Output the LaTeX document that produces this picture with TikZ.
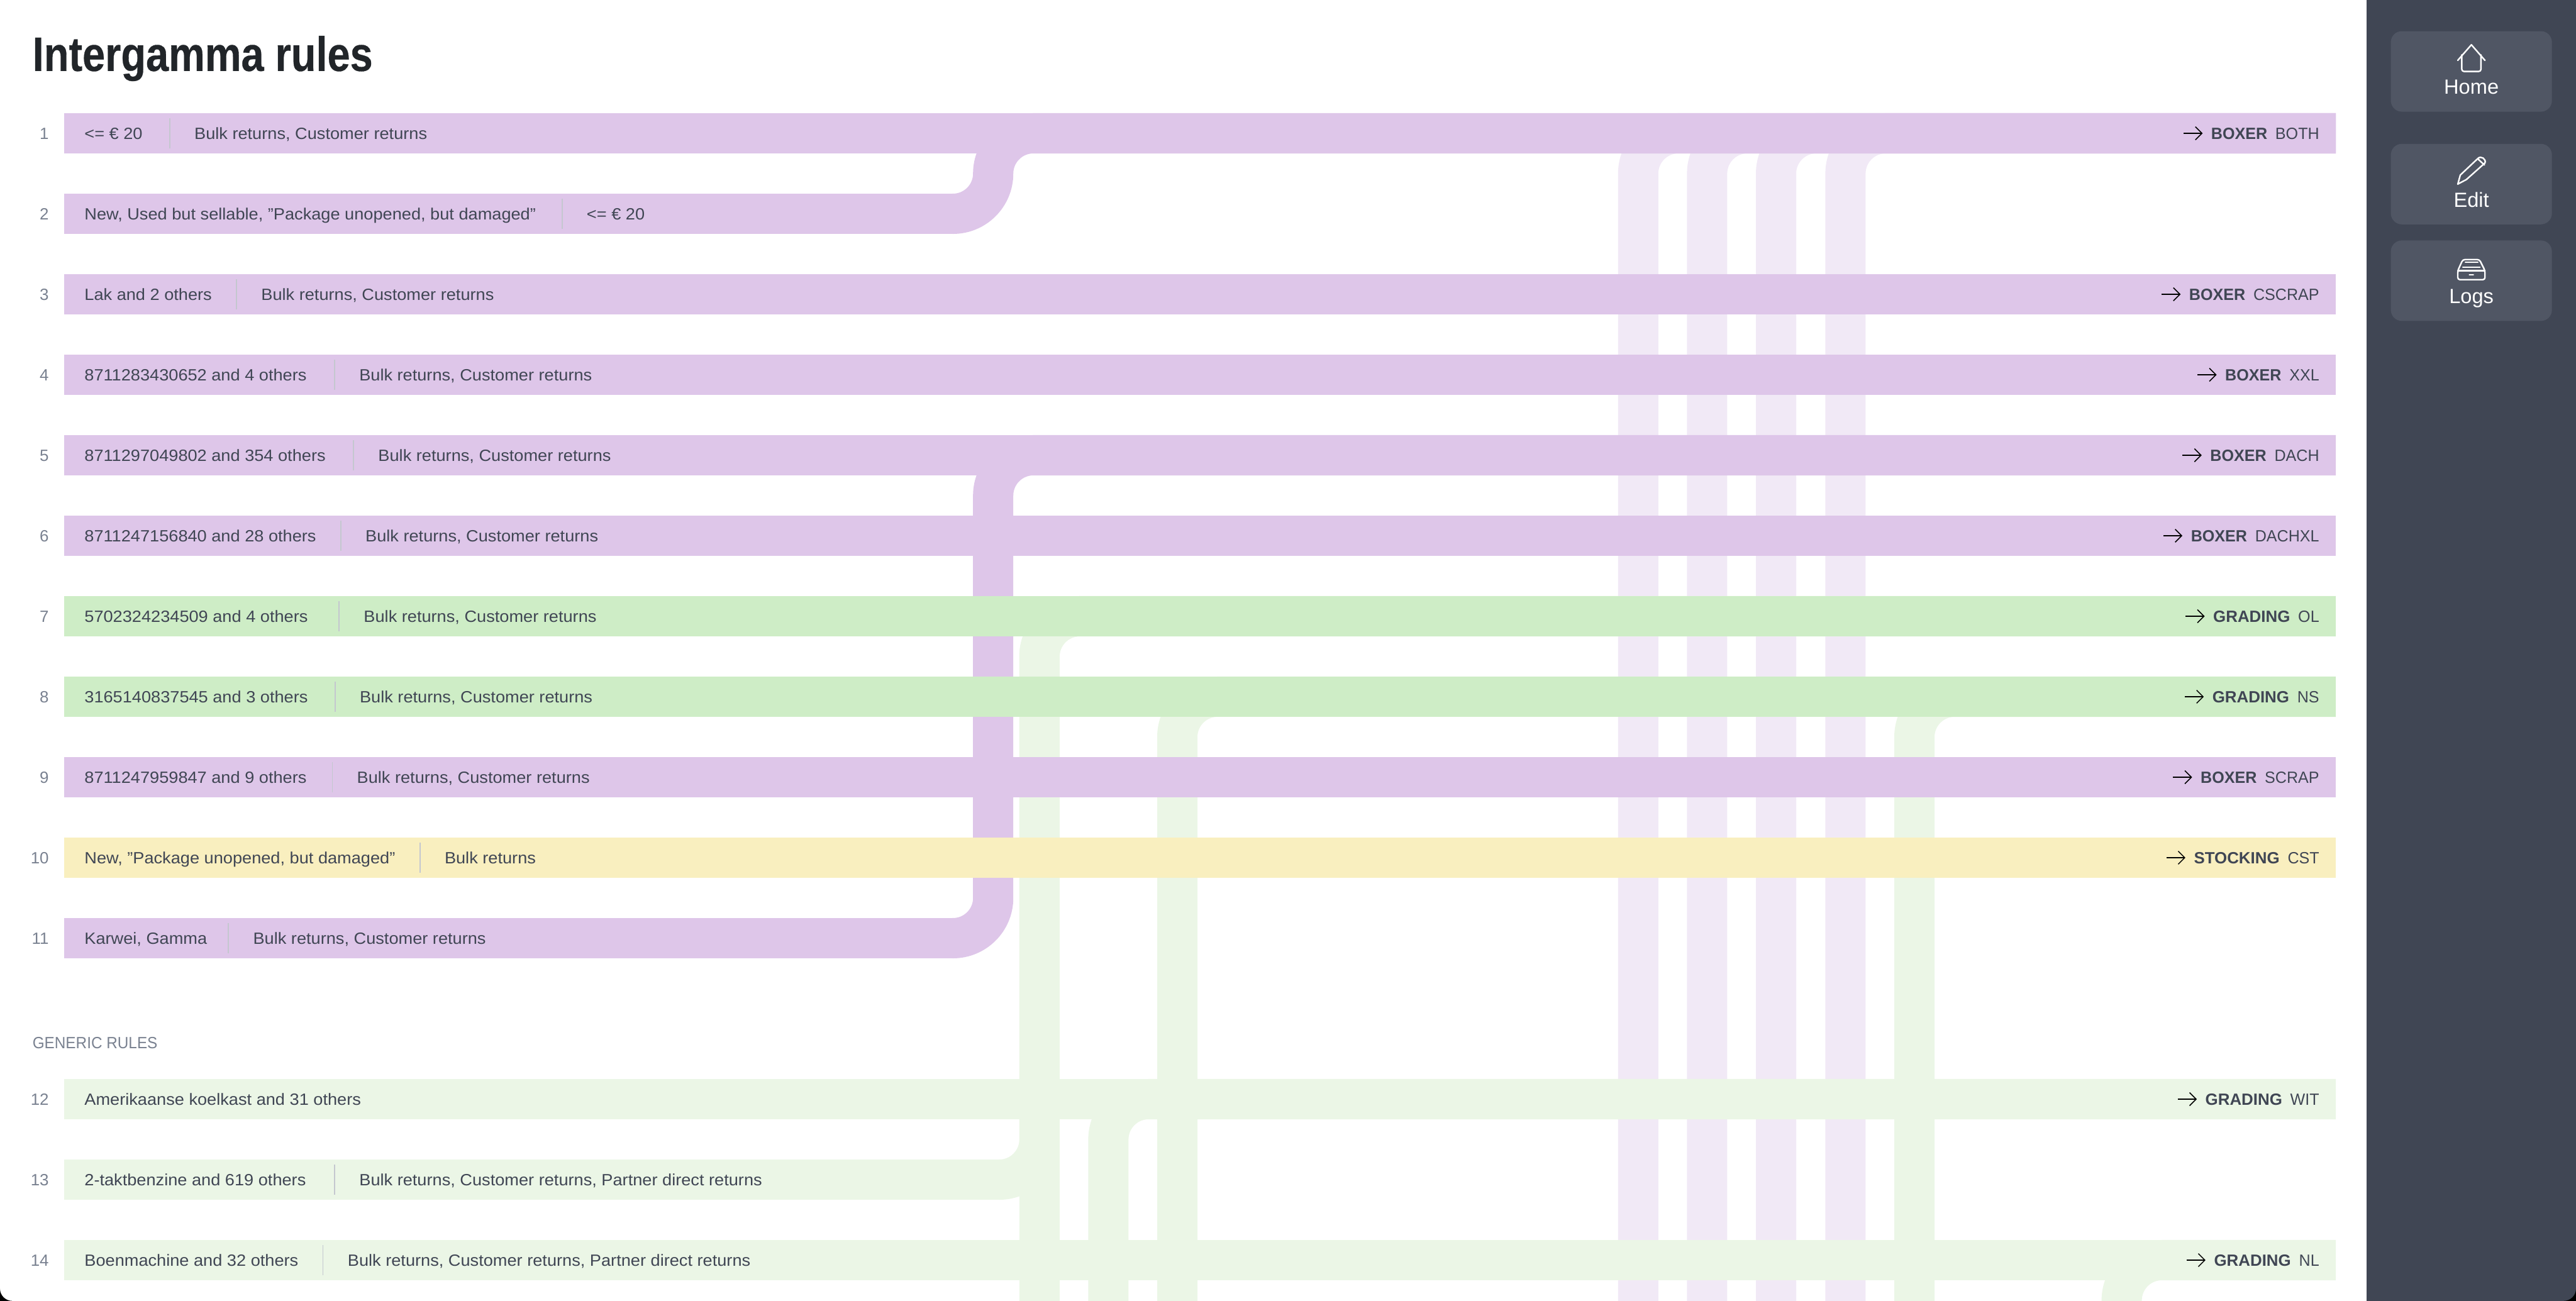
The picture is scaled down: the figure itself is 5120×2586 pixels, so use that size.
\documentclass[tikz,border=0pt]{standalone}
\usepackage{fontspec}
\setmainfont[FakeStretch=1.05]{Liberation Sans}
\newfontfamily\plainfont{Liberation Sans}
\newfontfamily\capsfont[FakeStretch=0.97]{Liberation Sans}
\newfontfamily\genericfont[FakeStretch=0.94]{Liberation Sans}
\newfontfamily\titlefont[FakeStretch=0.845, FakeBold=0.4]{Liberation Sans}
\usetikzlibrary{arrows.meta, positioning}

\definecolor{rulepurple}{HTML}{DEC6E9}
\definecolor{rulegreen}{HTML}{CEEDC6}
\definecolor{ruleyellow}{HTML}{F9EFBF}
\definecolor{palepurple}{HTML}{F1E9F6}
\definecolor{palegreen}{HTML}{EBF6E6}
\definecolor{sidedark}{HTML}{404654}
\definecolor{sidebutton}{HTML}{505664}
\definecolor{bodytext}{HTML}{404654}
\definecolor{greytext}{HTML}{798190}
\definecolor{sepgrey}{HTML}{C4C7CF}
\definecolor{titletext}{HTML}{212529}

\pgfdeclarelayer{lines}
\pgfsetlayers{lines,main}

\tikzset{
  rulebar/.style   = {anchor=west, minimum width=45.12cm, minimum height=0.8cm, inner sep=0pt, outer sep=0pt},
  shortbar/.style  = {anchor=west, minimum height=0.8cm, inner sep=0pt, outer sep=0pt},
  rownum/.style    = {anchor=east, inner sep=0pt, outer sep=0pt, text=greytext, font=\fontsize{9.2pt}{11pt}\plainfont, text height=0.24cm, text depth=0cm},
  celltext/.style  = {inner sep=0pt, outer sep=0pt, text=bodytext, font=\fontsize{9.2pt}{11pt}\selectfont, text height=0.24cm, text depth=0cm},
  desttext/.style  = {celltext, font=\fontsize{9.2pt}{11pt}\capsfont},
  kindtext/.style  = {celltext, font=\fontsize{9.2pt}{11pt}\capsfont\bfseries},
  widekind/.style  = {celltext, font=\fontsize{9.2pt}{11pt}\plainfont\bfseries},
  sepnode/.style   = {fill=sepgrey, minimum width=0.6pt, minimum height=0.6cm, inner sep=0pt, outer sep=0pt},
  flowline/.style  = {line width=0.8cm, rounded corners=0.8cm},
  goarrow/.style   = {-{Straight Barb[length=0.13cm, width=0.26cm]}, line width=0.55pt, black},
  sidebtn/.style   = {fill=sidebutton, rounded corners=0.22cm, minimum width=3.2cm, minimum height=1.6cm, inner sep=0pt, outer sep=0pt},
  sidetext/.style  = {anchor=base, inner sep=0pt, outer sep=0pt, text=white, font=\fontsize{11.6pt}{13pt}\plainfont},
  iconline/.style  = {draw=white, line width=0.85pt, line join=round, line cap=round}
}

\begin{document}
\begin{tikzpicture}[x=0.01cm, y=-0.01cm, node distance=0.48cm]

\useasboundingbox (0,0) rectangle (5120,2586);
\fill [sidedark] (4704,0) rectangle (5120,2586);

\node [anchor=base west, inner sep=0pt, text=titletext, font=\fontsize{27.3pt}{30pt}\titlefont\bfseries] (title) at (64,141) {Intergamma rules};

% the bars
\node [rulebar , fill=rulepurple]                  (r1)  at (128,265)  {};
\node [shortbar, fill=rulepurple, minimum width=17.66cm] (r2)  at (128,425)  {};
\node [rulebar , fill=rulepurple]                  (r3)  at (128,585)  {};
\node [rulebar , fill=rulepurple]                  (r4)  at (128,745)  {};
\node [rulebar , fill=rulepurple]                  (r5)  at (128,905)  {};
\node [rulebar , fill=rulepurple]                  (r6)  at (128,1065) {};
\node [rulebar , fill=rulegreen ]                  (r7)  at (128,1225) {};
\node [rulebar , fill=rulegreen ]                  (r8)  at (128,1385) {};
\node [rulebar , fill=rulepurple]                  (r9)  at (128,1545) {};
\node [rulebar , fill=ruleyellow]                  (r10) at (128,1705) {};
\node [shortbar, fill=rulepurple, minimum width=17.66cm] (r11) at (128,1865) {};
\node [rulebar , fill=palegreen ]                  (r12) at (128,2185) {};
\node [shortbar, fill=palegreen , minimum width=18.58cm] (r13) at (128,2345) {};
\node [rulebar , fill=palegreen ]                  (r14) at (128,2505) {};

% row numbers
\node [rownum, left=0.31cm of r1 ] (n1)  {1};
\node [rownum, left=0.31cm of r2 ] (n2)  {2};
\node [rownum, left=0.31cm of r3 ] (n3)  {3};
\node [rownum, left=0.31cm of r4 ] (n4)  {4};
\node [rownum, left=0.31cm of r5 ] (n5)  {5};
\node [rownum, left=0.31cm of r6 ] (n6)  {6};
\node [rownum, left=0.31cm of r7 ] (n7)  {7};
\node [rownum, left=0.31cm of r8 ] (n8)  {8};
\node [rownum, left=0.31cm of r9 ] (n9)  {9};
\node [rownum, left=0.31cm of r10] (n10) {10};
\node [rownum, left=0.31cm of r11] (n11) {11};
\node [rownum, left=0.31cm of r12] (n12) {12};
\node [rownum, left=0.31cm of r13] (n13) {13};
\node [rownum, left=0.31cm of r14] (n14) {14};

\node [anchor=west, inner sep=0pt, text=greytext, font=\fontsize{9.2pt}{11pt}\genericfont] (generic) at (64,2073) {GENERIC RULES};

% left columns
\node [celltext, right=0.4cm of r1.west ] (a1)  {<= € 20};
\node [sepnode , right=0.53cm of a1 ]     (s1)  {};
\node [celltext, right=of s1 ]            (b1)  {Bulk returns, Customer returns};
\node [celltext, right=0.4cm of r2.west ] (a2)  {New, Used but sellable, "Package unopened, but damaged"};
\node [sepnode , right=0.51cm of a2 ]     (s2)  {};
\node [celltext, right=of s2 ]            (b2)  {<= € 20};
\node [celltext, right=0.4cm of r3.west ] (a3)  {Lak and 2 others};
\node [sepnode , right=of a3 ]            (s3)  {};
\node [celltext, right=of s3 ]            (b3)  {Bulk returns, Customer returns};
\node [celltext, right=0.4cm of r4.west ] (a4)  {8711283430652 and 4 others};
\node [sepnode , right=0.545cm of a4 ]    (s4)  {};
\node [celltext, right=of s4 ]            (b4)  {Bulk returns, Customer returns};
\node [celltext, right=0.4cm of r5.west ] (a5)  {8711297049802 and 354 others};
\node [sepnode , right=0.545cm of a5 ]    (s5)  {};
\node [celltext, right=of s5 ]            (b5)  {Bulk returns, Customer returns};
\node [celltext, right=0.4cm of r6.west ] (a6)  {8711247156840 and 28 others};
\node [sepnode , right=of a6 ]            (s6)  {};
\node [celltext, right=of s6 ]            (b6)  {Bulk returns, Customer returns};
\node [celltext, right=0.4cm of r7.west ] (a7)  {5702324234509 and 4 others};
\node [sepnode , right=0.61cm of a7 ]     (s7)  {};
\node [celltext, right=of s7 ]            (b7)  {Bulk returns, Customer returns};
\node [celltext, right=0.4cm of r8.west ] (a8)  {3165140837545 and 3 others};
\node [sepnode , right=0.53cm of a8 ]     (s8)  {};
\node [celltext, right=of s8 ]            (b8)  {Bulk returns, Customer returns};
\node [celltext, right=0.4cm of r9.west ] (a9)  {8711247959847 and 9 others};
\node [sepnode , right=0.5cm of a9 ]      (s9)  {};
\node [celltext, right=of s9 ]            (b9)  {Bulk returns, Customer returns};
\node [celltext, right=0.4cm of r10.west] (a10) {New, "Package unopened, but damaged"};
\node [sepnode , right=of a10]            (s10) {};
\node [celltext, right=of s10]            (b10) {Bulk returns};
\node [celltext, right=0.4cm of r11.west] (a11) {Karwei, Gamma};
\node [sepnode , right=0.415cm of a11]    (s11) {};
\node [celltext, right=of s11]            (b11) {Bulk returns, Customer returns};
\node [celltext, right=0.4cm of r12.west] (a12) {Amerikaanse koelkast and 31 others};
\node [celltext, right=0.4cm of r13.west] (a13) {2-taktbenzine and 619 others};
\node [sepnode , right=0.56cm of a13]     (s13) {};
\node [celltext, right=of s13]            (b13) {Bulk returns, Customer returns, Partner direct returns};
\node [celltext, right=0.4cm of r14.west] (a14) {Boenmachine and 32 others};
\node [sepnode , right=of a14]            (s14) {};
\node [celltext, right=of s14]            (b14) {Bulk returns, Customer returns, Partner direct returns};

% right columns
\node [desttext, left=0.33cm of r1.east ] (d1)  {BOTH};
\node [kindtext, left=0.16cm of d1 ]      (k1)  {BOXER};
\node [desttext, left=0.33cm of r3.east ] (d3)  {CSCRAP};
\node [kindtext, left=0.16cm of d3 ]      (k3)  {BOXER};
\node [desttext, left=0.33cm of r4.east ] (d4)  {XXL};
\node [kindtext, left=0.16cm of d4 ]      (k4)  {BOXER};
\node [desttext, left=0.33cm of r5.east ] (d5)  {DACH};
\node [kindtext, left=0.16cm of d5 ]      (k5)  {BOXER};
\node [desttext, left=0.33cm of r6.east ] (d6)  {DACHXL};
\node [kindtext, left=0.16cm of d6 ]      (k6)  {BOXER};
\node [desttext, left=0.33cm of r7.east ] (d7)  {OL};
\node [widekind, left=0.16cm of d7 ]      (k7)  {GRADING};
\node [desttext, left=0.33cm of r8.east ] (d8)  {NS};
\node [widekind, left=0.16cm of d8 ]      (k8)  {GRADING};
\node [desttext, left=0.33cm of r9.east ] (d9)  {SCRAP};
\node [kindtext, left=0.16cm of d9 ]      (k9)  {BOXER};
\node [desttext, left=0.33cm of r10.east] (d10) {CST};
\node [widekind, left=0.16cm of d10]      (k10) {STOCKING};
\node [desttext, left=0.33cm of r12.east] (d12) {WIT};
\node [widekind, left=0.16cm of d12]      (k12) {GRADING};
\node [desttext, left=0.33cm of r14.east] (d14) {NL};
\node [widekind, left=0.16cm of d14]      (k14) {GRADING};

\draw [goarrow] ([xshift=-0.55cm]k1.west)  -- ([xshift=-0.17cm]k1.west);
\draw [goarrow] ([xshift=-0.55cm]k3.west)  -- ([xshift=-0.17cm]k3.west);
\draw [goarrow] ([xshift=-0.55cm]k4.west)  -- ([xshift=-0.17cm]k4.west);
\draw [goarrow] ([xshift=-0.55cm]k5.west)  -- ([xshift=-0.17cm]k5.west);
\draw [goarrow] ([xshift=-0.55cm]k6.west)  -- ([xshift=-0.17cm]k6.west);
\draw [goarrow] ([xshift=-0.55cm]k7.west)  -- ([xshift=-0.17cm]k7.west);
\draw [goarrow] ([xshift=-0.55cm]k8.west)  -- ([xshift=-0.17cm]k8.west);
\draw [goarrow] ([xshift=-0.55cm]k9.west)  -- ([xshift=-0.17cm]k9.west);
\draw [goarrow] ([xshift=-0.55cm]k10.west) -- ([xshift=-0.17cm]k10.west);
\draw [goarrow] ([xshift=-0.55cm]k12.west) -- ([xshift=-0.17cm]k12.west);
\draw [goarrow] ([xshift=-0.55cm]k14.west) -- ([xshift=-0.17cm]k14.west);

% turning points and the ends at the bottom of the page
\coordinate (t2)  at (1974,425);
\coordinate (t11) at (1974,1865);
\coordinate (t13) at (2066,2345);
\coordinate (fa)  at (2066,2590);
\coordinate (fb)  at (2203,2590);
\coordinate (fc)  at (2340,2590);
\coordinate (fd)  at (3256,2590);
\coordinate (fe)  at (3393,2590);
\coordinate (ff)  at (3530,2590);
\coordinate (fg)  at (3668,2590);
\coordinate (fh)  at (3805,2590);
\coordinate (fi)  at (4217,2590);

\begin{pgfonlayer}{lines}
\draw [flowline, palepurple] (r1.east)  -| (fd);
\draw [flowline, palepurple] (r1.east)  -| (fe);
\draw [flowline, palepurple] (r1.east)  -| (ff);
\draw [flowline, palepurple] (r1.east)  -| (fg);
\draw [flowline, palegreen ] (r7.east)  -| (fa);
\draw [flowline, palegreen ] (r7.east)  -| (t13) -- (r13.east);
\draw [flowline, palegreen ] (r12.east) -| (fb);
\draw [flowline, palegreen ] (r8.east)  -| (fc);
\draw [flowline, palegreen ] (r8.east)  -| (fh);
\draw [flowline, palegreen ] (r14.east) -| (fi);
\draw [flowline, rulepurple] (r1.east)  -| (t2)  -- (r2.east);
\draw [flowline, rulepurple] (r5.east)  -| (t11) -- (r11.east);
\end{pgfonlayer}

% side bar
\node [sidebtn] (home) at (4912,142) {};
\node [sidebtn] (edit) at (4912,366) {};
\node [sidebtn] (logs) at (4912,558) {};
\node [sidetext] (homet) at (4912,187) {Home};
\node [sidetext] (editt) at (4912,412) {Edit};
\node [sidetext] (logst) at (4912,603) {Logs};

% icons
\draw [iconline] (4885,120) -- (4912,89) -- (4939,120);
\draw [iconline, rounded corners=1.2pt] (4893,109) -- (4893,142) -- (4931,142) -- (4931,109);
\draw [iconline] (4885,366) -- (4890,348) -- (4925,315) .. controls (4931,309) and (4942,316) .. (4939,324) -- (4902,357) -- cycle;
\draw [iconline] (4925,316) -- (4938,328);
\draw [iconline, rounded corners=1.2pt] (4885,538) -- (4895,516) -- (4928,516) -- (4939,538) -- (4939,556) -- (4885,556) -- cycle;
\draw [iconline] (4885,538) -- (4939,538);
\draw [iconline] (4900,521) -- (4925,521);
\draw [iconline] (4895,531) -- (4929,531);
\draw [iconline] (4908,546) -- (4916,546);

% the window corners
\fill [black] (0,2562) .. controls (0,2575) and (11,2586) .. (24,2586) -- (0,2586) -- cycle;
\fill [black] (5120,2562) .. controls (5120,2575) and (5109,2586) .. (5096,2586) -- (5120,2586) -- cycle;

\end{tikzpicture}
\end{document}
